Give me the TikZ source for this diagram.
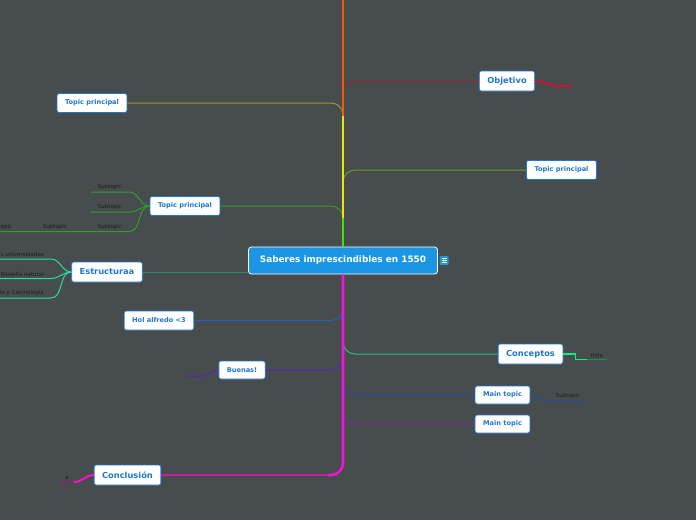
\documentclass[tikz,border=0pt]{standalone}
\usepackage{fontspec}
\setmainfont{DejaVu Sans}
\usepackage{tikz}
\definecolor{bg}{RGB}{71,76,76}
\definecolor{boxblue}{HTML}{1E78D2}
\definecolor{centreblue}{HTML}{1A96E4}
\definecolor{subtext}{HTML}{1E1E1E}
\definecolor{trunkorange}{HTML}{F55A0A}
\definecolor{trunkyellow}{HTML}{E6E614}
\definecolor{trunkgreen}{HTML}{46DC14}
\definecolor{trunkmagenta}{HTML}{F014DC}
\definecolor{objred}{HTML}{A0203C}
\definecolor{objcrimson}{HTML}{C8143C}
\definecolor{oliveline}{HTML}{9A9A2E}
\definecolor{leafgreen}{HTML}{6E9A32}
\definecolor{subgreen}{HTML}{2EA02E}
\definecolor{estteal}{HTML}{2A8A74}
\definecolor{estaqua}{HTML}{22E0A8}
\definecolor{holblue}{HTML}{2060C8}
\definecolor{buepurple}{HTML}{5A22C0}
\definecolor{congreen}{HTML}{22C080}
\definecolor{holagreen}{HTML}{10F080}
\definecolor{holadark}{HTML}{2A8A5A}
\definecolor{mtblue}{HTML}{2848A8}
\definecolor{mtpurple}{HTML}{8A24A8}
\definecolor{cncpurple}{HTML}{C020A0}
\definecolor{cncmagenta}{HTML}{FF10D0}
\definecolor{dimmagenta}{HTML}{7A2A6A}

\begin{document}
\begin{tikzpicture}[x=1pt,y=-1pt,
  topic/.style={draw=boxblue,fill=white,rounded corners=2pt,text=boxblue,line width=0.8pt,
    font=\bfseries\fontsize{6.6}{8}\selectfont,minimum height=19pt,inner xsep=8pt},
  bigtopic/.style={topic,font=\bfseries\fontsize{8.3}{10}\selectfont,minimum height=20pt},
  sub/.style={text=subtext,font=\fontsize{5.5}{6}\selectfont,inner xsep=7pt,inner ysep=2pt,anchor=south},
  link/.style={line width=1pt,rounded corners=12pt},
  trunk/.style={line width=2.6pt}]
\path[use as bounding box,fill=bg] (0,0) rectangle (696,520);

\node[draw=white,fill=centreblue,text=white,rounded corners=3pt,line width=0.8pt,
  font=\bfseries\fontsize{8.9}{10}\selectfont,minimum width=189pt,minimum height=27pt] (root) at (343,260.5) {Saberes imprescindibles en 1550};
\node[fill=centreblue,minimum size=9pt,inner sep=0pt,rounded corners=1pt] (note) at (444,260.5) {};
\foreach \d in {-2,0,2}
  \draw[white,line width=0.7pt] ([xshift=-2.5pt,yshift=\d pt]note.center) -- ++(5,0);

\node[bigtopic] (obj) at (507,81) {Objetivo};
\node[topic] (tpa) at (92,103) {Topic principal};
\node[topic] (tpb) at (561.5,170) {Topic principal};
\node[topic] (tpc) at (185,206) {Topic principal};
\node[bigtopic] (est) at (107,272) {Estructuraa};
\node[topic] (hol) at (159,320.5) {Hol alfredo <3};
\node[topic,minimum height=18pt] (bue) at (242,370) {Buenas!};
\node[bigtopic] (con) at (530.5,354) {Conceptos};
\node[topic,minimum height=18pt] (mta) at (502.5,395) {Main topic};
\node[topic,minimum height=18pt] (mtb) at (502.5,424) {Main topic};
\node[bigtopic] (cnc) at (127.5,475) {Conclusión};

\coordinate (top) at (343,0);
\coordinate (jo) at (343,97);
\coordinate (ja) at (343,116);
\coordinate (jb) at (343,184);
\coordinate (jc) at (343,218);
\coordinate (jh) at (343,308);
\coordinate (jco) at (343,340);
\coordinate (jbu) at (343,357);
\coordinate (jma) at (343,381);
\coordinate (jmb) at (343,410);
\coordinate (jcnc) at (328,475);
\coordinate (ofree) at (572,86);
\coordinate (bfree) at (185,376);

\draw[link,objred] (jo) |- (obj.west);
\draw[link,oliveline] (tpa.east) -| (ja);
\draw[link,leafgreen] (jb) |- (tpb.west);
\draw[link,subgreen] (tpc.east) -| (jc);
\draw[link,estteal] (est.east) -- (est.east -| root.west);
\draw[link,holblue] (hol.east) -| (jh);
\draw[link,buepurple] (bue.east) -| (jbu);
\draw[link,congreen] (jco) |- (con.west);
\draw[link,mtblue] (jma) |- (mta.west);
\draw[link,mtpurple] (jmb) |- (mtb.west);
\draw[link,cncpurple,line width=1.2pt] (jcnc) -- (cnc.east);

\draw[trunk,trunkorange] (top) -- (ja);
\draw[trunk,trunkyellow] (ja) -- (jc);
\draw[trunk,trunkgreen] (jc) -- (root.north);
\draw[trunk,trunkmagenta,rounded corners=12pt] (root.south) |- (jcnc);

\node[sub] (sa) at (110,192) {Subtopic};
\node[sub] (sb) at (110,212) {Subtopic};
\node[sub] (sc) at (110,231.5) {Subtopic};
\node[sub] (sd) at (55,231.5) {Subtopic};
\node[sub,anchor=south west,inner xsep=0.5pt] (se) at (0,231.5) {opic};
\draw[subgreen,line width=1pt] (tpc.west) to[out=180,in=0] (sa.south east) -- (sa.south west);
\draw[subgreen,line width=1pt] (tpc.west) to[out=180,in=0] (sb.south east) -- (sb.south west);
\draw[subgreen,line width=1pt] (tpc.west) to[out=180,in=0] (sc.south east) -- (se.south west);

\node[sub,anchor=south east] (ea) at (51,259) {s universidades};
\node[sub,anchor=south east] (eb) at (51,278.5) {filosofía natural};
\node[sub,anchor=south east] (ec) at (51,298) {ía y Cosmología};
\draw[estaqua,line width=1pt] (est.west) to[out=180,in=0] (ea.south east) -- (ea.south west);
\draw[estaqua,line width=1pt] (est.west) to[out=180,in=0] (eb.south east) -- (eb.south west);
\draw[estaqua,line width=1pt] (est.west) to[out=180,in=0] (ec.south east) -- (ec.south west);

\node[sub,inner xsep=3.5pt] (hola) at (597,359.5) {hola};
\draw[holagreen,line width=1.5pt] (con.east) -- ++(12,0) |- (hola.south west);
\draw[holadark,line width=1.8pt] (hola.south west) -- (hola.south east);

\node[sub] (mts) at (568,401) {Subtopic};
\draw[mtblue,line width=1pt] (mta.east) to[out=0,in=180] (mts.south west) -- (mts.south east);

\draw[buepurple,line width=1pt] (bue.west) to[out=180,in=0] ++(-16,6) -- (bfree);

\node[sub,inner xsep=5pt] (ca) at (67,482) {a};
\draw[cncmagenta,line width=2pt] (cnc.west) to[out=180,in=0] (ca.south east);
\draw[dimmagenta,line width=1.5pt] (ca.south east) -- (ca.south west);

\draw[objcrimson,line width=2pt] (obj.east) to[out=0,in=180] ++(24,5) -- (ofree);
\end{tikzpicture}
\end{document}
